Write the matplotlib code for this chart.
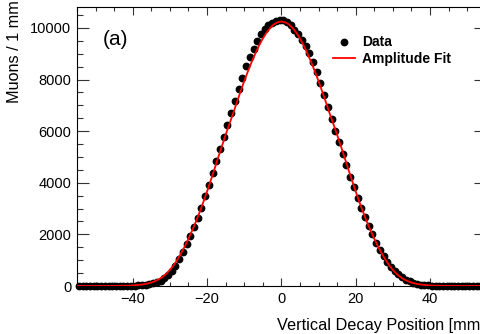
import numpy as np
import matplotlib
matplotlib.use("Agg")
from matplotlib import pyplot as plt
from matplotlib.ticker import MultipleLocator

plt.rcParams["font.family"] = ["Liberation Sans", "DejaVu Sans"]

# bin centres, 1 mm bins
pos_x = np.arange(-54.5, 55.0, 1.0)

# muons per 1 mm bin (left half, then right half)
data_left = [2, 2, 3, 3, 3, 4, 4, 5, 5, 6,
             7, 8, 10, 12, 15, 19, 25, 34, 48, 68,
             98, 140, 205, 300, 430, 590, 790, 1030, 1310, 1610,
             1930, 2270, 2640, 3030, 3470, 3920, 4380, 4840, 5300, 5770,
             6230, 6694, 7180, 7635, 8075, 8527, 8890, 9200, 9496, 9755,
             9960, 10116, 10205, 10270, 10310]
data_right = [10300, 10230, 10100, 9930, 9755, 9535, 9300, 9020, 8694, 8283,
              7857, 7403, 6950, 6480, 6020, 5570, 5128, 4690, 4236, 3826,
              3400, 3040, 2686, 2325, 2003, 1678, 1395, 1163, 942, 748,
              593, 460, 345, 250, 175, 120, 80, 52, 34, 22,
              15, 11, 8, 7, 6, 5, 4, 4, 3, 3,
              3, 2, 2, 2, 2]
muons = np.array(data_left + data_right)

# amplitude fit, |x| = 0 .. 55 mm (symmetric)
fit_half = [10250, 10220, 10140, 10000, 9820, 9590, 9320, 9010, 8680, 8320,
            7940, 7530, 7110, 6680, 6270, 5860, 5420, 4980, 4530, 4090,
            3660, 3250, 2860, 2490, 2150, 1830, 1530, 1260, 1020, 800,
            620, 470, 350, 258, 188, 135, 96, 68, 48, 33,
            23, 16, 11, 8, 5, 4, 3, 2, 2, 1,
            1, 1, 1, 1, 1, 1]
fit_half = np.array(fit_half)
fit_x = np.arange(-55, 56)
fit_y = np.concatenate([fit_half[:0:-1], fit_half])

fig = plt.figure(figsize=(4.81, 3.34), dpi=100)
ax = fig.add_axes([0.160, 0.1437, 0.850, 0.8353])

ax.plot(pos_x, muons, "o", color="k", markersize=4.6, clip_on=False,
        zorder=2, label="Data")
ax.plot(fit_x, fit_y, color="#ff0000", linewidth=1.3, zorder=3,
        label="Amplitude Fit")

ax.set_xlim(-55, 55)
ax.set_ylim(0, 10810)

ax.xaxis.set_major_locator(MultipleLocator(20))
ax.xaxis.set_minor_locator(MultipleLocator(5))
ax.yaxis.set_major_locator(MultipleLocator(2000))
ax.yaxis.set_minor_locator(MultipleLocator(500))

ax.tick_params(which="both", direction="in", top=True, right=True,
               labelsize=10.5, width=0.8, colors="#333333",
               labelcolor="black")
ax.tick_params(axis="x", which="major", length=5.5, pad=4)
ax.tick_params(axis="x", which="minor", length=3.0)
ax.tick_params(axis="y", which="major", length=8.4, pad=4)
ax.tick_params(axis="y", which="minor", length=4.3)
for s in ax.spines.values():
    s.set_linewidth(0.8)

ax.text(0.095, 0.885, "(a)", transform=ax.transAxes, fontsize=15,
        ha="center", va="center")

ax.legend(loc="upper left", bbox_to_anchor=(0.626, 0.898), frameon=False,
          prop={"weight": "bold", "size": 10}, handlelength=1.6,
          handletextpad=0.5, labelspacing=0.15, borderpad=0,
          borderaxespad=0, markerscale=1.0)

fig.text(1.008, 0.025, "Vertical Decay Position [mm]", ha="right",
         va="center", fontsize=11.7)
fig.text(0.031, 1.0, "Muons / 1 mm", rotation=90, ha="center",
         va="top", fontsize=11.7)

fig.savefig("out.png", dpi=100)
